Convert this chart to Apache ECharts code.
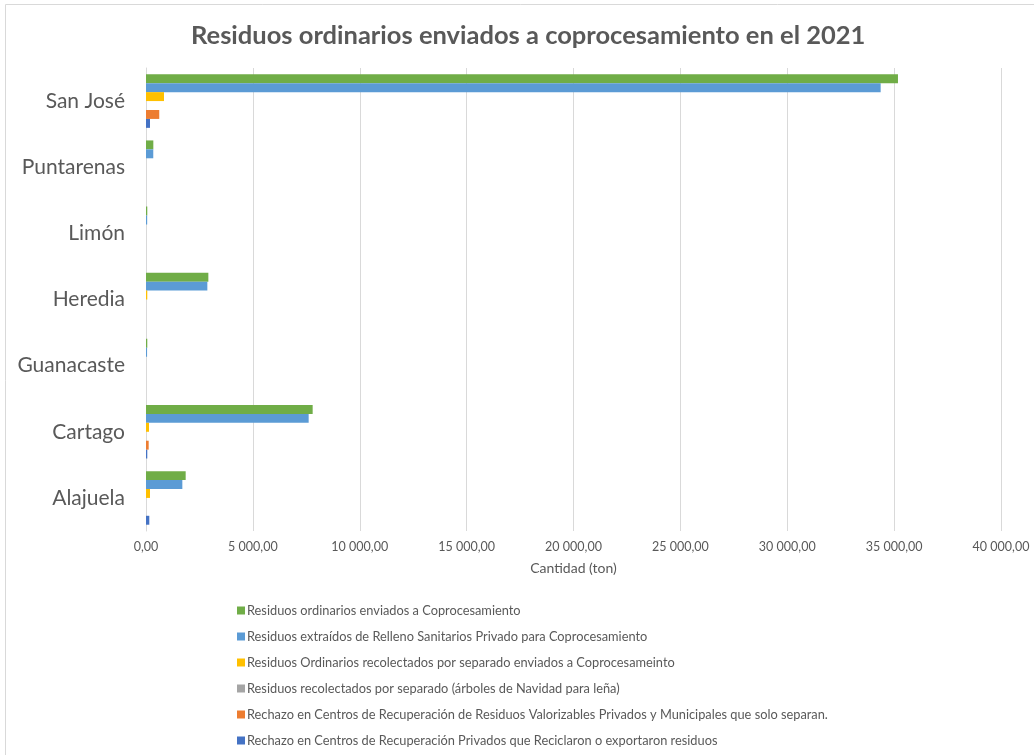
<!DOCTYPE html>
<html>
<head>
<meta charset="utf-8">
<script src="https://cdn.jsdelivr.net/npm/echarts@6/dist/echarts.min.js"></script>
<style>
  html, body { margin: 0; padding: 0; background: #ffffff; }
  #chart { width: 1034px; height: 755px; }
</style>
</head>
<body>
<div id="chart"></div>
<script>
// Provinces, listed from the bottom of the axis to the top
const provinces = ['Alajuela', 'Cartago', 'Guanacaste', 'Heredia', 'Limón', 'Puntarenas', 'San José'];

// Tonnes per province, one array per waste stream
const ordinariosCoproc    = [1856, 7797, 60, 2917, 60, 343, 35180];
const extraidosRelleno    = [1700, 7610, 50, 2870, 55, 340, 34370];
const recolectadosCoproc  = [187, 140, 0, 60, 0, 0, 842];
const arbolesNavidad      = [0, 0, 0, 0, 0, 0, 0];
const rechazoSoloSeparan  = [0, 125, 0, 0, 0, 0, 620];
const rechazoReciclaron   = [155, 60, 0, 0, 0, 0, 187];

const seriesNames = [
  'Residuos ordinarios enviados a Coprocesamiento',
  'Residuos extraídos de Relleno Sanitarios Privado para Coprocesamiento',
  'Residuos Ordinarios recolectados por separado enviados a Coprocesameinto',
  'Residuos recolectados por separado (árboles de Navidad para leña)',
  'Rechazo en Centros de Recuperación de Residuos Valorizables Privados y Municipales que solo separan.',
  'Rechazo en Centros de Recuperación Privados que Reciclaron o exportaron residuos'
];
const seriesValues = [ordinariosCoproc, extraidosRelleno, recolectadosCoproc, arbolesNavidad, rechazoSoloSeparan, rechazoReciclaron];
const seriesColors = ['#70AD47', '#5B9BD5', '#FFC000', '#A5A5A5', '#ED7D31', '#4472C4'];

// "35 000,00" style number format
function fmt(v) {
  const parts = Math.abs(v).toFixed(2).split('.');
  const intPart = parts[0].replace(/\B(?=(\d{3})+(?!\d))/g, ' ');
  return (v < 0 ? '-' : '') + intPart + ',' + parts[1];
}

const chart = echarts.init(document.getElementById('chart'), null, { renderer: 'canvas' });

const series = seriesNames.map((name, i) => ({
  name: name,
  type: 'bar',
  data: seriesValues[i],
  itemStyle: { color: seriesColors[i] },
  barGap: '0%',
  barCategoryGap: '19%'
}));

chart.setOption({
  animation: false,
  textStyle: { fontFamily: 'Lato' },
  graphic: [{
    type: 'rect',
    shape: { x: 5.5, y: 4.5, width: 1040, height: 760 },
    style: { fill: 'none', stroke: '#d9d9d9', lineWidth: 1 },
    silent: true
  }],
  title: {
    text: 'Residuos ordinarios enviados a coprocesamiento en el 2021',
    left: 186,
    top: 18,
    textStyle: { fontFamily: 'Lato', fontSize: 25.5, fontWeight: 'bold', color: '#595959' }
  },
  legend: {
    orient: 'vertical',
    left: 232,
    top: 599,
    itemWidth: 8,
    itemHeight: 8,
    itemGap: 13,
    icon: 'rect',
    data: seriesNames,
    textStyle: { fontFamily: 'Lato', fontSize: 12.8, color: '#595959', padding: [0, 0, 0, -3] }
  },
  grid: { left: 146, right: 33, top: 68, bottom: 224, containLabel: false },
  xAxis: {
    type: 'value',
    min: 0,
    max: 40000,
    interval: 5000,
    name: 'Cantidad (ton)',
    nameLocation: 'middle',
    nameGap: 30,
    nameTextStyle: { fontFamily: 'Lato', fontSize: 14, color: '#595959' },
    axisLine: { show: false },
    axisTick: { show: false },
    axisLabel: { fontFamily: 'Lato', fontSize: 12.5, color: '#595959', margin: 9, formatter: fmt },
    splitLine: { lineStyle: { color: '#d9d9d9', width: 1 } }
  },
  yAxis: {
    type: 'category',
    data: provinces,
    axisLine: { lineStyle: { color: '#d9d9d9', width: 1 } },
    axisTick: { show: false },
    axisLabel: { fontFamily: 'Lato', fontSize: 21, color: '#595959', margin: 21 }
  },
  series: series
});
</script>
</body>
</html>
